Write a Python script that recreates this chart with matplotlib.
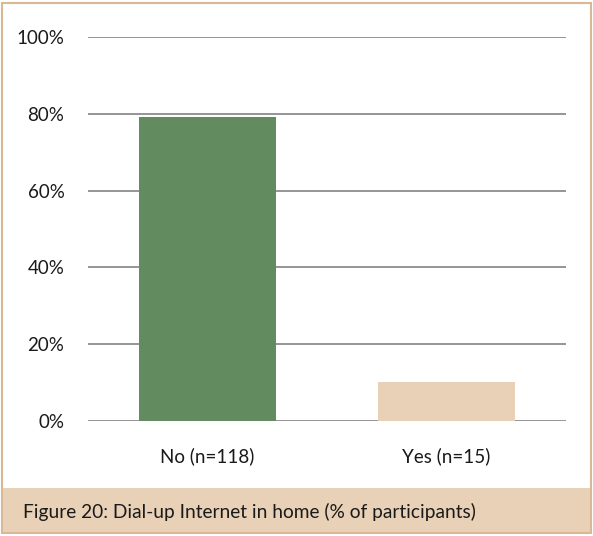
import matplotlib
matplotlib.use("Agg")
import matplotlib.pyplot as plt
from matplotlib.patches import Rectangle
from matplotlib.ticker import FuncFormatter

plt.rcParams['font.family'] = ['Lato', 'DejaVu Sans']

categories = ["No (n=118)", "Yes (n=15)"]
percent = [79.2, 10.1]
bar_colors = ["#628b60", "#e8d1b7"]
yticks = [0, 20, 40, 60, 80, 100]
caption = "Figure 20: Dial-up Internet in home (% of participants)"

W, H = 593, 536
fig = plt.figure(figsize=(W / 100, H / 100), dpi=100)

# outer border and caption strip (kept behind the axes)
fig.patches.append(Rectangle((1.5 / W, 1 - 533 / H), 589 / W, 530 / H, transform=fig.transFigure,
                             facecolor="white", edgecolor="#d9b896", linewidth=1.5, zorder=-2))
fig.patches.append(Rectangle((2.5 / W, 1 - 532 / H), 587 / W, 44 / H, transform=fig.transFigure,
                             facecolor="#e8d1b7", edgecolor="none", zorder=-1))
fig.text(23 / W, 1 - 512 / H, caption, fontsize=13.8, va="center", ha="left", color="#1a1a1a")

ax = fig.add_axes([88 / W, 1 - 421 / H, 478 / W, 384 / H])
ax.set_facecolor("none")
x = range(len(categories))
ax.bar(x, percent, width=0.573, color=bar_colors, zorder=3)
ax.set_xlim(-0.5, len(categories) - 0.5)
ax.set_ylim(0, 100)
ax.set_yticks(yticks)
ax.yaxis.set_major_formatter(FuncFormatter(lambda v, p: "%d%%" % v))
ax.set_xticks(list(x))
ax.set_xticklabels(categories)
ax.grid(axis="y", color="#8c8c8c", linewidth=1.3, zorder=0)
ax.tick_params(axis="both", length=0, labelsize=13.5, colors="#1a1a1a")
ax.tick_params(axis="y", pad=17)
ax.tick_params(axis="x", pad=19)
for s in ax.spines.values():
    s.set_visible(False)

fig.savefig("out.png", dpi=100)
